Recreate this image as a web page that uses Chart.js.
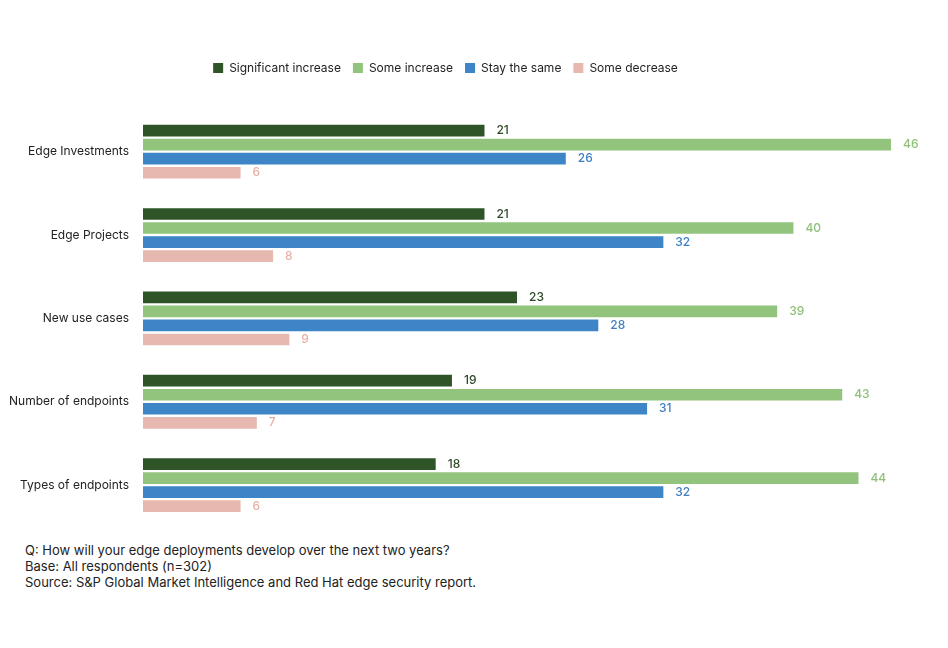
<!DOCTYPE html>
<html>
<head>
<meta charset="utf-8">
<script src="https://cdn.jsdelivr.net/npm/chart.js@4"></script>
<style>
body { margin: 0; background: #fff; font-family: Inter, "Noto Sans", sans-serif; }
#wrap { position: absolute; left: 0; top: 0; width: 948px; height: 540px; }
#nota { position: absolute; left: 25px; top: 542px; font-size: 13px; line-height: 16px; color: #222; }
</style>
</head>
<body>
<div id="wrap"><canvas id="grafico"></canvas></div>
<div id="nota">
Q: How will your edge deployments develop over the next two years?<br>
Base: All respondents (n=302)<br>
Source: S&amp;P Global Market Intelligence and Red Hat edge security report.
</div>
<script>
const categorias = ['Edge Investments', 'Edge Projects', 'New use cases', 'Number of endpoints', 'Types of endpoints']
const series = [
    { nome: 'Significant increase', cor: '#2e5427', texto: '#2e4a27', valores: [21, 21, 23, 19, 18] },
    { nome: 'Some increase', cor: '#93c47d', texto: '#8fbf78', valores: [46, 40, 39, 43, 44] },
    { nome: 'Stay the same', cor: '#3d85c6', texto: '#3d7fc0', valores: [26, 32, 28, 31, 32] },
    { nome: 'Some decrease', cor: '#e6b8af', texto: '#e6b0a6', valores: [6, 8, 9, 7, 6] },
]

const legendaAltura = {
    id: 'legendaAltura',
    beforeInit(chart) {
        const fitOrig = chart.legend.fit
        chart.legend.fit = function () {
            fitOrig.bind(chart.legend)()
            this.height += 26
        }
    }
}

const rotulos = {
    id: 'rotulos',
    afterDatasetsDraw(chart) {
        const ctx = chart.ctx
        ctx.save()
        ctx.font = '500 12px Inter, sans-serif'
        ctx.textBaseline = 'middle'
        chart.data.datasets.forEach((ds, i) => {
            chart.getDatasetMeta(i).data.forEach((bar, j) => {
                ctx.fillStyle = series[i].texto
                ctx.fillText(ds.data[j], bar.x + 12, bar.y)
            })
        })
        ctx.restore()
    }
}

new Chart(document.getElementById('grafico'), {
    type: 'bar',
    data: {
        labels: categorias,
        datasets: series.map(s => ({
            label: s.nome,
            data: s.valores,
            backgroundColor: s.cor,
            categoryPercentage: 0.674,
            barPercentage: 0.83,
        }))
    },
    options: {
        indexAxis: 'y',
        responsive: true,
        maintainAspectRatio: false,
        animation: false,
        layout: { padding: { top: 50, right: 57, bottom: 4, left: 0 } },
        scales: {
            x: { min: 0, max: 46, display: false, grid: { display: false } },
            y: {
                grid: { display: false },
                border: { display: false },
                ticks: { color: '#222', font: { size: 12, family: 'Inter, sans-serif' }, padding: 6 },
                afterFit: scale => { scale.width = 143 }
            }
        },
        plugins: {
            legend: {
                labels: {
                    boxWidth: 10, boxHeight: 10, padding: 12,
                    color: '#222', font: { size: 12, family: 'Inter, sans-serif' }
                }
            },
            tooltip: { enabled: false }
        }
    },
    plugins: [legendaAltura, rotulos]
})
</script>
</body>
</html>
